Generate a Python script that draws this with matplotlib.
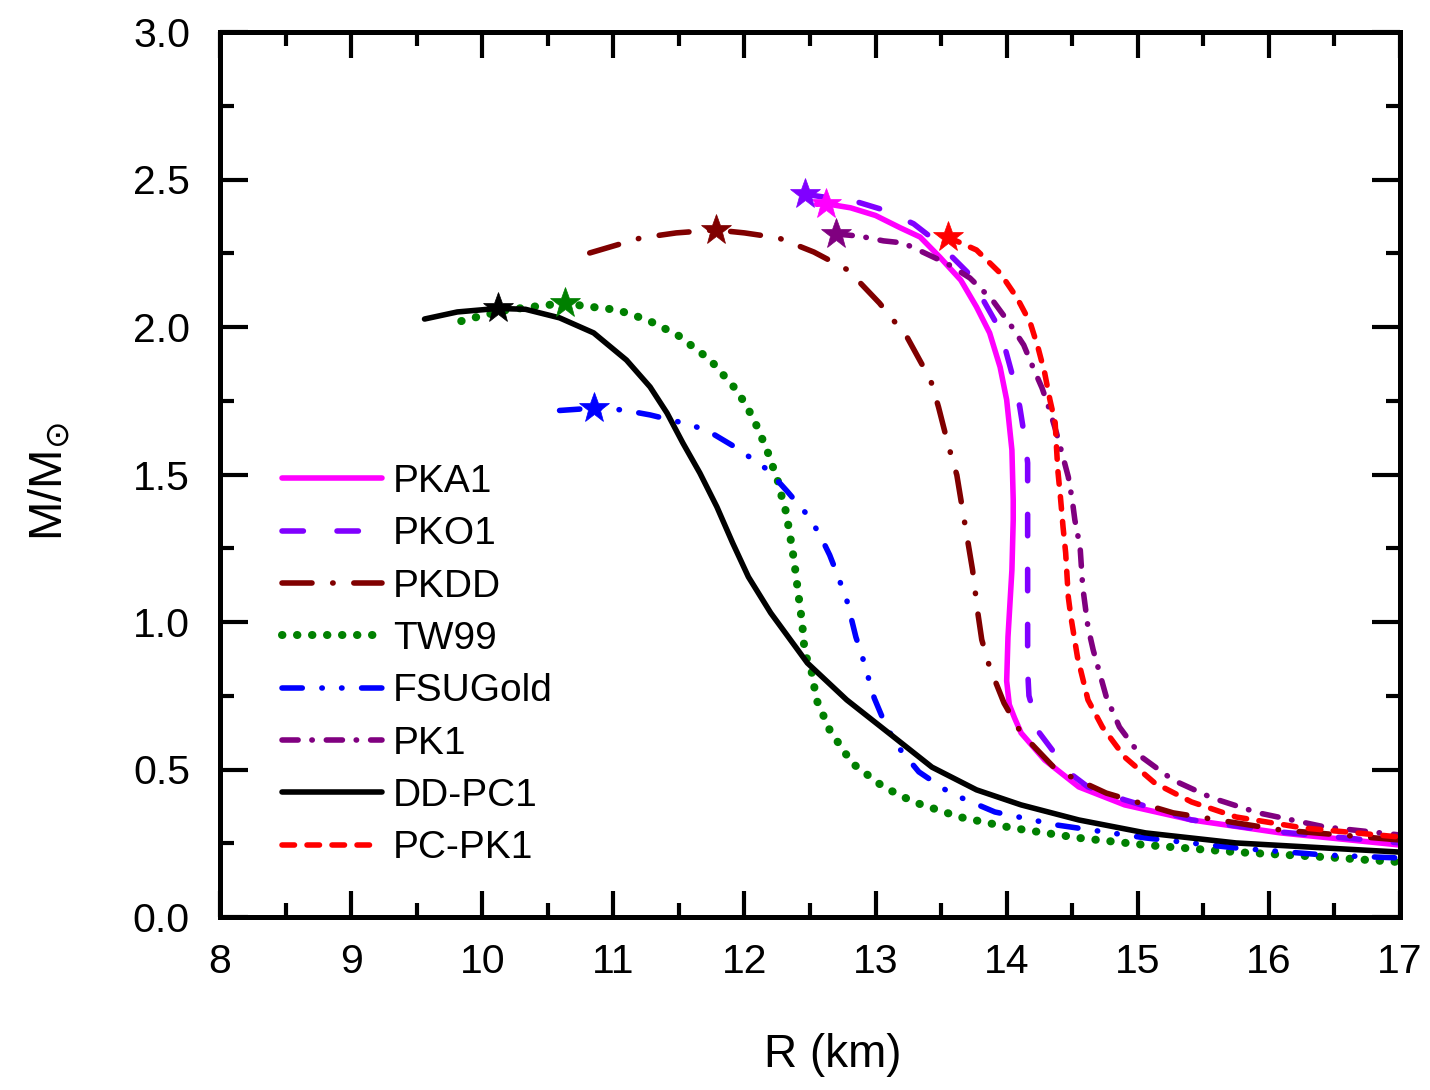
import matplotlib
matplotlib.use("Agg")
import matplotlib.pyplot as plt
from matplotlib.ticker import MultipleLocator, FormatStrFormatter

plt.rcParams['font.family'] = ['Liberation Sans', 'DejaVu Sans']
plt.rcParams['lines.scale_dashes'] = False

# ---------------- data (R in km, M in solar masses) ----------------
pka1_R = [12.55, 12.62, 12.81, 13.00, 13.19, 13.34, 13.49, 13.65, 13.77, 13.87, 13.95, 14.00,
          14.04, 14.05, 14.05, 14.04, 14.01, 14.00, 14.02, 14.06, 14.11, 14.29, 14.55, 14.90,
          15.41, 16.09, 17.0]
pka1_M = [2.416, 2.418, 2.404, 2.378, 2.336, 2.305, 2.237, 2.159, 2.068, 1.980, 1.864, 1.753,
          1.583, 1.414, 1.346, 1.176, 0.949, 0.80, 0.72, 0.675, 0.624, 0.532, 0.441, 0.380,
          0.329, 0.285, 0.244]

pko1_R = [12.46, 12.86, 13.06, 13.29, 13.47, 13.70, 13.80, 13.95, 14.06, 14.10, 14.14,
          14.16, 14.16, 14.16, 14.16, 14.16, 14.17, 14.25, 14.48, 14.62, 14.90, 15.41, 16.09, 17.0]
pko1_M = [2.450, 2.424, 2.397, 2.350, 2.288, 2.186, 2.108, 1.990, 1.810, 1.729, 1.617,
          1.539, 1.424, 1.288, 1.064, 0.837, 0.750, 0.624, 0.488, 0.441, 0.397, 0.329, 0.288, 0.251]

pkdd_R = [10.82, 11.21, 11.48, 11.78, 12.00, 12.26, 12.53, 12.79, 13.03, 13.24, 13.42, 13.48,
          13.55, 13.62, 13.68, 13.74, 13.78, 13.81, 13.87, 13.98, 14.11, 14.38, 14.76, 15.27, 16.09, 17.0]
pkdd_M = [2.251, 2.302, 2.319, 2.329, 2.319, 2.302, 2.254, 2.193, 2.081, 1.966, 1.820, 1.729,
          1.607, 1.498, 1.336, 1.176, 1.031, 0.940, 0.847, 0.725, 0.624, 0.498, 0.420, 0.353, 0.295, 0.261]

tw99_R = [9.84, 9.96, 10.19, 10.43, 10.63, 10.78, 11.03, 11.26, 11.49, 11.61, 11.74, 11.84,
          11.94, 12.02, 12.08, 12.13, 12.18, 12.26, 12.29, 12.32, 12.34, 12.36, 12.38, 12.41, 12.44,
          12.46, 12.51, 12.55, 12.65, 12.82, 13.06, 13.29, 13.64, 14.04, 14.55, 15.06, 15.75, 16.43, 17.0]
tw99_M = [2.020, 2.034, 2.058, 2.071, 2.081, 2.071, 2.058, 2.024, 1.973, 1.932, 1.888, 1.837,
          1.786, 1.729, 1.678, 1.627, 1.573, 1.471, 1.414, 1.369, 1.312, 1.261, 1.203, 1.098, 0.997,
          0.895, 0.837, 0.736, 0.634, 0.522, 0.441, 0.390, 0.339, 0.302, 0.268, 0.244, 0.220, 0.203, 0.186]

fsu_R = [10.59, 10.85, 11.07, 11.28, 11.53, 11.71, 11.94, 12.18, 12.33, 12.48, 12.57, 12.65,
         12.71, 12.78, 12.85, 12.90, 12.99, 13.06, 13.16, 13.33, 13.57, 13.91, 14.38, 15.06, 15.75, 16.43, 17.0]
fsu_M = [1.717, 1.725, 1.719, 1.702, 1.675, 1.651, 1.590, 1.515, 1.441, 1.363, 1.300, 1.227,
         1.159, 1.075, 0.949, 0.881, 0.742, 0.668, 0.583, 0.492, 0.420, 0.356, 0.312, 0.268, 0.234, 0.210, 0.200]

pk1_R = [12.70, 12.88, 13.06, 13.21, 13.36, 13.55, 13.72, 13.89, 14.03, 14.13, 14.20, 14.27, 14.32,
         14.38, 14.43, 14.47, 14.50, 14.52, 14.56, 14.58, 14.62, 14.66, 14.76, 14.86, 15.03, 15.27,
         15.57, 15.92, 16.43, 17.0]
pk1_M = [2.315, 2.308, 2.292, 2.285, 2.254, 2.214, 2.166, 2.092, 2.007, 1.939, 1.864, 1.793, 1.729,
         1.641, 1.559, 1.492, 1.414, 1.346, 1.254, 1.119, 0.983, 0.905, 0.746, 0.644, 0.542, 0.464,
         0.403, 0.353, 0.305, 0.278]

ddpc1_R = [9.56, 9.81, 10.12, 10.33, 10.59, 10.85, 11.10, 11.28, 11.41, 11.53, 11.66, 11.79, 11.91,
           12.03, 12.20, 12.48, 12.78, 13.10, 13.43, 13.77, 14.11, 14.55, 15.06, 15.75, 16.43, 17.0]
ddpc1_M = [2.027, 2.051, 2.063, 2.060, 2.031, 1.980, 1.888, 1.797, 1.708, 1.607, 1.505, 1.390, 1.268,
           1.153, 1.031, 0.861, 0.736, 0.624, 0.508, 0.431, 0.380, 0.329, 0.285, 0.251, 0.234, 0.220]

pcpk1_R = [13.55, 13.77, 13.95, 14.08, 14.18, 14.24, 14.29, 14.33, 14.37, 14.38, 14.39, 14.41, 14.43,
           14.45, 14.47, 14.49, 14.54, 14.62, 14.73, 14.90, 15.13, 15.41, 15.75, 16.26, 17.0]
pcpk1_M = [2.305, 2.261, 2.183, 2.098, 2.014, 1.929, 1.844, 1.753, 1.675, 1.593, 1.515, 1.424, 1.322,
           1.234, 1.085, 1.017, 0.881, 0.736, 0.644, 0.542, 0.454, 0.390, 0.339, 0.302, 0.271]

# maximum-mass configurations (stars)
star_R = [12.62, 12.46, 11.78, 10.63, 10.85, 12.70, 10.12, 13.55]
star_M = [2.418, 2.450, 2.329, 2.081, 1.725, 2.315, 2.063, 2.305]

labels = ['PKA1', 'PKO1', 'PKDD', 'TW99', 'FSUGold', 'PK1', 'DD-PC1', 'PC-PK1']
series = [(pka1_R, pka1_M), (pko1_R, pko1_M), (pkdd_R, pkdd_M), (tw99_R, tw99_M),
          (fsu_R, fsu_M), (pk1_R, pk1_M), (ddpc1_R, ddpc1_M), (pcpk1_R, pcpk1_M)]

# ---------------- styles ----------------
colors = ['#FF00FF', '#8000FF', '#800000', '#008000', '#0000FF', '#800080', '#000000', '#FF0000']
lw = 4.0
dash_styles = [
    None,                                    # solid
    (0, (15.4, 24.2)),                       # dashed
    (0, (21.6, 14.9, 0.3, 14.9)),            # dash-dot
    (0, (0.3, 10.5)),                        # dotted
    (0, (14.6, 14.1, 0.3, 13.9, 0.3, 14.1)),  # dash-dot-dot
    (0, (11.6, 9.9, 0.3, 10.1)),             # dash-dot (short)
    None,                                    # solid
    (0, (9.0, 9.0)),                         # short dash
]
widths = [lw, lw, lw, 5.8, lw, lw, lw, lw]

fig = plt.figure(figsize=(14.3, 10.9), dpi=100)
ax = fig.add_axes([220 / 1430, 1 - 917 / 1090, 1180 / 1430, 885 / 1090])

handles = []
for (R, M), lab, c, ds, w in zip(series, labels, colors, dash_styles, widths):
    kw = dict(color=c, lw=w, solid_capstyle='round', dash_capstyle='round',
              solid_joinstyle='round', dash_joinstyle='round', label=lab)
    if ds is not None:
        kw['linestyle'] = ds
    h, = ax.plot(R, M, **kw)
    handles.append(h)

for r, m, c in zip(star_R, star_M, colors):
    ax.plot([r], [m], marker='*', ms=23, color=c, mec=c, mew=0.5, zorder=5)

ax.set_xlim(8, 17)
ax.set_ylim(0, 3.0)
ax.xaxis.set_major_locator(MultipleLocator(1))
ax.xaxis.set_minor_locator(MultipleLocator(0.5))
ax.yaxis.set_major_locator(MultipleLocator(0.5))
ax.yaxis.set_minor_locator(MultipleLocator(0.25))
ax.yaxis.set_major_formatter(FormatStrFormatter('%.1f'))

for s in ax.spines.values():
    s.set_linewidth(3.6)

ax.tick_params(axis='both', which='both', direction='in', top=True, right=True, width=3,
               labelsize=29.5)
ax.tick_params(axis='x', which='major', length=18.4, pad=19)
ax.tick_params(axis='y', which='major', length=20, pad=21.6)
ax.tick_params(axis='both', which='minor', length=10.2)

ax.set_xlabel('R (km)', fontsize=33)
ax.set_ylabel('M/M$_{\\odot}$', fontsize=34)
ax.xaxis.set_label_coords((833 - 220) / 1180, (917 - 1033) / 885)
ax.yaxis.set_label_coords((72 - 220) / 1180, 0.492)

leg = ax.legend(handles=handles, loc='upper left',
                bbox_to_anchor=((282 - 220) / 1180, (917 - 464) / 885),
                frameon=False, fontsize=28, handlelength=72 / 28, handletextpad=0.28,
                labelspacing=0.42, borderpad=0, borderaxespad=0)

fig.savefig('out.png', dpi=100)
